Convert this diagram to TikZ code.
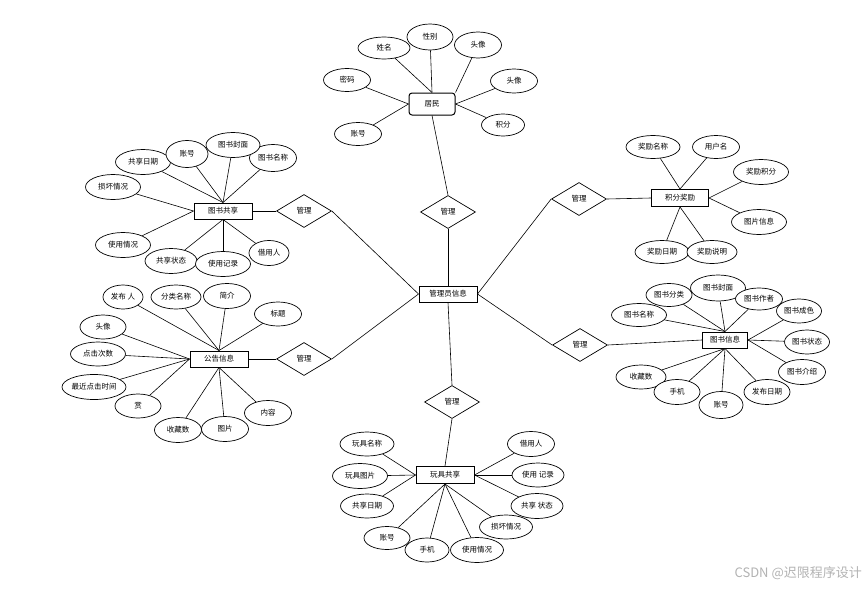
\documentclass[tikz,border=0pt]{standalone}
\usepackage{fontspec}
\setmainfont{Noto Sans CJK SC}
\usetikzlibrary{shapes.geometric}
\begin{document}
\begin{tikzpicture}[x=1pt,y=-1pt,
  font=\fontsize{7.5}{9}\selectfont,
  attr/.style={ellipse, draw, fill=white, line width=0.7pt, minimum width=47, minimum height=24, inner sep=0pt},
  ent/.style={rectangle, draw, fill=white, line width=1pt, minimum width=58, minimum height=16, inner sep=0pt},
  rel/.style={diamond, draw, fill=white, line width=0.7pt, minimum width=55, minimum height=33, inner sep=0pt},
  lk/.style={line width=0.6pt}]
\useasboundingbox (0,0) rectangle (866,589);

% ---------- centre ----------
\node[ent] (adm) at (448,294) {管理员信息};
\node[rel] (g1) at (448,212) {管理};
\node[rel] (g2) at (304,211) {管理};
\node[rel] (g3) at (304,359) {管理};
\node[rel] (g4) at (579,199) {管理};
\node[rel] (g5) at (580,345) {管理};
\node[rel] (g6) at (452,402) {管理};

% ---------- 居民 ----------
\node[ent, rounded corners=3pt, minimum width=46, minimum height=22] (jm) at (432,104) {居民};
\node[attr, minimum width=52, minimum height=22] (jm1) at (384,48) {姓名};
\node[attr, minimum width=46, minimum height=26] (jm2) at (430,37) {性别};
\node[attr, minimum height=26] (jm3) at (478,45) {头像};
\node[attr] (jm4) at (514,81) {头像};
\node[attr, minimum height=23] (jm5) at (347,80) {密码};
\node[attr, minimum width=43, minimum height=22] (jm6) at (503,125) {积分};
\node[attr, minimum height=23] (jm7) at (358,134) {账号};
\foreach \a in {jm1,jm2} \draw[lk] (jm.north) -- (\a);
\draw[lk] (jm.north east) -- (jm3);
\foreach \a in {jm4,jm6} \draw[lk] (jm.east) -- (\a);
\foreach \a in {jm5,jm7} \draw[lk] (jm.west) -- (\a);

% ---------- 图书共享 ----------
\node[ent] (ts) at (223,211) {图书共享};
\node[attr, minimum width=55, minimum height=25] (ts1) at (143,162) {共享日期};
\node[attr, minimum width=42, minimum height=27] (ts2) at (187,154) {账号};
\node[attr, minimum height=27] (ts4) at (273,158) {图书名称};
\node[attr, minimum width=54, minimum height=25] (ts3) at (233,145) {图书封面};
\node[attr, minimum width=55, minimum height=25] (ts5) at (113,187) {损坏情况};
\node[attr, minimum width=55, minimum height=25] (ts6) at (123,245) {使用情况};
\node[attr, minimum width=52, minimum height=25] (ts7) at (171,261) {共享状态};
\node[attr, minimum width=55, minimum height=25] (ts8) at (223,264) {使用记录};
\node[attr, minimum width=40, minimum height=25] (ts9) at (269,253) {借用人};
\foreach \a in {ts1,ts2,ts3,ts4} \draw[lk] (ts.north) -- (\a);
\foreach \a in {ts5,ts6} \draw[lk] (ts.west) -- (\a);
\foreach \a in {ts7,ts8,ts9} \draw[lk] (ts.south) -- (\a);

% ---------- 公告信息 ----------
\node[ent] (gg) at (219,359) {公告信息};
\node[attr, minimum width=40] (gg1) at (123,297) {发布 人};
\node[attr, minimum width=50] (gg2) at (176,297) {分类名称};
\node[attr, minimum height=25] (gg3) at (227,296) {简介};
\node[attr] (gg4) at (278,314) {标题};
\node[attr, minimum width=46] (gg5) at (103,327) {头像};
\node[attr, minimum width=55] (gg6) at (98,354) {点击次数};
\node[attr, minimum width=64, minimum height=25] (gg7) at (94,387) {最近点击时间};
\node[attr, minimum width=46] (gg8) at (138,406) {赏};
\node[attr, minimum height=25] (gg9) at (178,430) {收藏数};
\node[attr, minimum height=25] (gg10) at (225,429) {图片};
\node[attr, minimum height=25] (gg11) at (268,413) {内容};
\foreach \a in {gg1,gg2,gg3,gg4} \draw[lk] (gg.north) -- (\a);
\foreach \a in {gg5,gg6,gg7,gg8} \draw[lk] (gg.west) -- (\a);
\foreach \a in {gg9,gg10,gg11} \draw[lk] (gg.south) -- (\a);

% ---------- 积分奖励 ----------
\node[ent, minimum width=57, minimum height=17] (jf) at (680,198) {积分奖励};
\node[attr, minimum width=54, minimum height=23] (jf1) at (653,147) {奖励名称};
\node[attr, minimum height=23] (jf2) at (716,147) {用户名};
\node[attr, minimum width=55, minimum height=25] (jf3) at (761,172) {奖励积分};
\node[attr, minimum width=55, minimum height=25] (jf4) at (759,222) {图片信息};
\node[attr, minimum width=54, minimum height=23] (jf5) at (662,252) {奖励日期};
\node[attr, minimum width=50, minimum height=23] (jf6) at (712,252) {奖励说明};
\foreach \a in {jf1,jf2} \draw[lk] (jf.north) -- (\a);
\foreach \a in {jf3,jf4} \draw[lk] (jf.east) -- (\a);
\foreach \a in {jf5,jf6} \draw[lk] (jf.south) -- (\a);

% ---------- 图书信息 ----------
\node[ent, minimum width=45] (tx) at (725,340) {图书信息};
\node[attr, minimum width=46, minimum height=23] (tx1) at (669,295) {图书分类};
\node[attr, minimum width=55, minimum height=26] (tx2) at (718,288) {图书封面};
\node[attr, minimum height=22] (tx3) at (759,299) {图书作者};
\node[attr, minimum width=45] (tx4) at (799,311) {图书成色};
\node[attr, minimum width=45] (tx5) at (807,342) {图书状态};
\node[attr, minimum height=25] (tx6) at (802,372) {图书介绍};
\node[attr, minimum width=46, minimum height=25] (tx7) at (767,392) {发布日期};
\node[attr, minimum width=44, minimum height=27] (tx8) at (721,405) {账号};
\node[attr, minimum width=50] (tx10) at (641,377) {收藏数};
\node[attr, minimum width=46, minimum height=25] (tx9) at (677,392) {手机};
\node[attr, minimum width=55, minimum height=23] (tx11) at (639,315) {图书名称};
\foreach \a in {tx1,tx2,tx3,tx11} \draw[lk] (tx.north) -- (\a);
\foreach \a in {tx4,tx5,tx6} \draw[lk] (tx.east) -- (\a);
\foreach \a in {tx7,tx8,tx9,tx10} \draw[lk] (tx.south) -- (\a);

% ---------- 玩具共享 ----------
\node[ent, minimum height=17] (wj) at (445,475) {玩具共享};
\node[attr, minimum width=54] (wj1) at (367,444) {玩具名称};
\node[attr, minimum width=55, minimum height=25] (wj2) at (360,476) {玩具图片};
\node[attr, minimum width=53] (wj3) at (367,506) {共享日期};
\node[attr, minimum width=46, minimum height=23] (wj4) at (387,538) {账号};
\node[attr, minimum width=44] (wj5) at (427,550) {手机};
\node[attr, minimum width=53] (wj7) at (506,527) {损坏情况};
\node[attr, minimum width=53, minimum height=25] (wj6) at (477,550) {使用情况};
\node[attr, minimum height=25] (wj8) at (531,444) {借用人};
\node[attr, minimum width=52] (wj9) at (538,475) {使用 记录};
\node[attr, minimum width=52, minimum height=25] (wj10) at (537,506) {共享 状态};
\foreach \a in {wj1,wj2,wj3} \draw[lk] (wj.west) -- (\a);
\foreach \a in {wj8,wj9,wj10} \draw[lk] (wj.east) -- (\a);
\foreach \a in {wj4,wj5,wj6,wj7} \draw[lk] (wj.south) -- (\a);

% ---------- relationships ----------
\draw[lk] (jm.south) -- (g1.north);
\draw[lk] (g1.south) -- (adm.north);
\draw[lk] (adm.west) -- (g2.east);
\draw[lk] (g2.west) -- (ts.east);
\draw[lk] (adm.west) -- (g3.east);
\draw[lk] (g3.west) -- (gg.east);
\draw[lk] (adm.east) -- (g4.west);
\draw[lk] (g4.east) -- (jf.west);
\draw[lk] (adm.east) -- (g5.west);
\draw[lk] (g5.east) -- (tx.west);
\draw[lk] (adm.south) -- (g6.north);
\draw[lk] (g6.south) -- (wj.north);

% ---------- watermark ----------
\node[text=black!30, font=\fontsize{13}{15}\selectfont, anchor=east, inner sep=0pt] (wm) at (862,573) {CSDN @迟限程序设计};
\end{tikzpicture}
\end{document}
